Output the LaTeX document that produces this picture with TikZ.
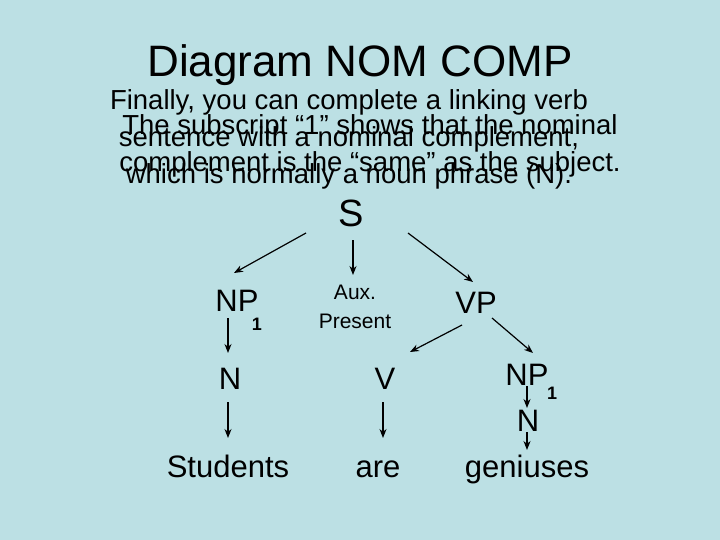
\documentclass[tikz,border=0pt]{standalone}
\usepackage{fontspec}
\setmainfont{Liberation Sans}
\usetikzlibrary{arrows.meta}
\definecolor{bg}{HTML}{BCE0E4}
\begin{document}
\begin{tikzpicture}[x=1pt,y=-1pt,
  lab/.style={inner sep=0pt,anchor=base,font=\fontsize{31}{31}\selectfont},
  par/.style={inner sep=0pt,align=center,font=\fontsize{27.5}{37}\selectfont},
  arr/.style={-{Stealth[length=9pt,width=7pt]},line width=1.2pt}]
\fill[bg] (0,0) rectangle (720,540);
\useasboundingbox (0,0) rectangle (720,540);
\node[inner sep=0pt,anchor=base,font=\fontsize{44}{44}\selectfont] (title) at (360,77) {Diagram NOM COMP};
\node[par,anchor=north] (p1) at (349,89) {Finally, you can complete a linking verb\\sentence with a nominal complement,\\which is normally a noun phrase (N).};
\node[par,anchor=north] (p2) at (370,114) {The subscript “1” shows that the nominal\\complement is the “same” as the subject.};
\node[lab,font=\fontsize{38}{38}\selectfont] (S) at (351,226) {S};
\node[lab] (NP) at (237,311) {NP};
\node[inner sep=0pt,anchor=base,font=\bfseries\fontsize{18}{18}\selectfont] (np1s) at (257,330) {1};
\node[inner sep=0pt,anchor=base,font=\fontsize{21}{21}\selectfont] (aux) at (355,299) {Aux.};
\node[inner sep=0pt,anchor=base,font=\fontsize{21}{21}\selectfont] (pres) at (355,328) {Present};
\node[lab] (VP) at (476,313) {VP};
\node[lab] (N1) at (230,389) {N};
\node[lab] (V) at (385,389) {V};
\node[lab] (NPb) at (527,385) {NP};
\node[inner sep=0pt,anchor=base,font=\bfseries\fontsize{18}{18}\selectfont] (np2s) at (552,399) {1};
\node[lab] (N2) at (528,431) {N};
\node[lab] (stu) at (228,477) {Students};
\node[lab] (are) at (378,477) {are};
\node[lab] (gen) at (527,477) {geniuses};
\coordinate (a1) at (306,233); \coordinate (b1) at (234,273);
\coordinate (a2) at (353,240); \coordinate (b2) at (353,275);
\coordinate (a3) at (408,233); \coordinate (b3) at (473,282);
\coordinate (a4) at (462,325); \coordinate (b4) at (410,352);
\coordinate (a5) at (492,318); \coordinate (b5) at (533,353);
\coordinate (a6) at (228,318); \coordinate (b6) at (228,353);
\coordinate (a7) at (228,402); \coordinate (b7) at (228,438);
\coordinate (a8) at (383,402); \coordinate (b8) at (383,438);
\coordinate (a9) at (527,386); \coordinate (b9) at (527,408);
\coordinate (a10) at (527,432); \coordinate (b10) at (527,450);
\foreach \i in {1,...,10} \draw[arr] (a\i) -- (b\i);
\end{tikzpicture}
\end{document}
